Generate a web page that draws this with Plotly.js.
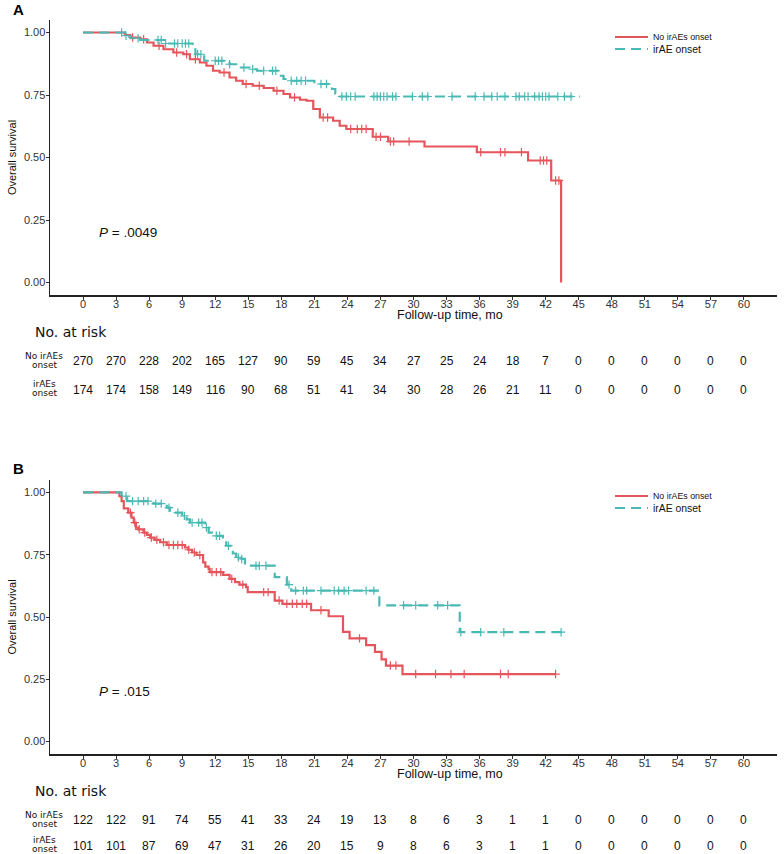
<!DOCTYPE html>
<html>
<head>
<meta charset="utf-8">
<script src="https://cdn.plot.ly/plotly-3.0.1.min.js"></script>
<style>
  body { margin: 0; background: #fff; }
  #chart { width: 784px; height: 854px; }
</style>
</head>
<body>
<div id="chart"></div>
<script>
// follow-up months shown on the axis and in the risk table
const riskTimes = [0, 3, 6, 9, 12, 15, 18, 21, 24, 27, 30, 33, 36, 39, 42, 45, 48, 51, 54, 57, 60];

// panel A - step points of the KM curves
const aNoTime = [0, 3.8, 4.3, 5.2, 5.8, 6.4, 7.3, 8.2, 9.1, 9.7, 10.6, 11.2, 11.8, 12.4, 13.3, 13.9, 14.5, 15.4, 16.4, 17.3, 18.2, 18.8, 19.7, 20.3, 20.9, 21.5, 22.7, 23.3, 23.9, 26.3, 27.7, 31.0, 35.75, 40.4, 42.5, 43.4];
const aNoSurv = [1, 0.99, 0.98, 0.973, 0.96, 0.947, 0.933, 0.92, 0.913, 0.893, 0.88, 0.867, 0.847, 0.84, 0.82, 0.807, 0.794, 0.787, 0.778, 0.767, 0.754, 0.74, 0.731, 0.727, 0.694, 0.66, 0.647, 0.627, 0.614, 0.583, 0.564, 0.544, 0.521, 0.488, 0.408, 0];
const aNoCensor = [4.5, 5.5, 6.9, 8.5, 9.4, 10.2, 12.8, 14.8, 16.0, 17.6, 19.2, 21.8, 22.2, 24.3, 24.9, 25.3, 25.7, 26.6, 27.0, 27.9, 28.2, 29.6, 36.1, 37.9, 38.3, 39.8, 41.5, 41.8, 42.1, 42.9, 43.2];

const aIrTime = [0, 3.8, 4.3, 5.2, 7.4, 9.95, 10.2, 11.0, 13.3, 14.2, 15.1, 15.8, 17.7, 18.2, 18.6, 21.0, 22.6, 22.9, 23.2, 45.1];
const aIrSurv = [1, 0.987, 0.977, 0.97, 0.956, 0.947, 0.913, 0.887, 0.873, 0.86, 0.853, 0.847, 0.827, 0.814, 0.807, 0.794, 0.774, 0.756, 0.744, 0.744];
const aIrCensor = [3.5, 3.9, 5.0, 6.8, 7.1, 7.5, 8.3, 8.6, 9.0, 9.3, 9.6, 10.4, 10.7, 12.0, 12.3, 12.6, 13.3, 14.6, 15.4, 16.4, 17.2, 17.5, 18.9, 19.4, 19.8, 20.2, 21.6, 22.1, 23.5, 23.9, 24.3, 24.7, 26.4, 26.7, 27.0, 27.3, 27.6, 28.1, 28.4, 29.9, 30.8, 31.3, 33.5, 35.6, 36.4, 37.1, 37.6, 38.3, 39.3, 39.6, 40.1, 40.4, 41.0, 41.4, 41.7, 42.0, 42.3, 43.1, 43.7, 44.3];

// panel B
const bNoTime = [0, 3.3, 3.5, 3.7, 4.1, 4.4, 4.6, 4.8, 5.0, 5.5, 5.8, 6.1, 6.5, 7.0, 7.6, 9.25, 9.55, 9.9, 10.3, 10.9, 11.1, 11.4, 11.5, 12.7, 13.3, 13.8, 14.2, 14.8, 14.95, 17.4, 18.1, 20.7, 22.3, 23.6, 24.2, 25.7, 26.5, 27.1, 27.5, 29.0, 42.9];
const bNoSurv = [1, 0.985, 0.965, 0.936, 0.919, 0.899, 0.879, 0.859, 0.852, 0.839, 0.83, 0.819, 0.81, 0.8, 0.789, 0.779, 0.77, 0.759, 0.749, 0.719, 0.702, 0.693, 0.68, 0.669, 0.653, 0.64, 0.63, 0.62, 0.6, 0.566, 0.553, 0.527, 0.503, 0.44, 0.414, 0.387, 0.36, 0.33, 0.305, 0.271, 0.271];
const bNoCensor = [4.3, 4.7, 5.1, 5.6, 6.2, 6.7, 7.3, 7.8, 8.2, 8.6, 9.0, 9.6, 10.1, 10.6, 11.7, 12.1, 12.5, 13.5, 14.5, 16.4, 16.8, 17.8, 18.5, 19.0, 19.4, 19.9, 20.3, 21.6, 25.1, 27.9, 28.4, 30.2, 32.0, 33.4, 34.6, 37.9, 38.6, 42.9];

const bIrTime = [0, 3.5, 4.0, 6.4, 7.6, 7.9, 8.3, 9.0, 9.4, 9.7, 11.1, 11.4, 11.7, 12.7, 13.0, 13.6, 13.9, 14.4, 14.7, 17.4, 18.5, 18.9, 26.9, 34.2, 43.4];
const bIrSurv = [1, 0.985, 0.965, 0.955, 0.939, 0.926, 0.919, 0.906, 0.892, 0.879, 0.859, 0.839, 0.826, 0.806, 0.786, 0.755, 0.739, 0.733, 0.706, 0.66, 0.63, 0.606, 0.547, 0.439, 0.439];
const bIrCensor = [3.9, 4.5, 5.0, 5.5, 5.9, 6.6, 7.1, 7.8, 8.6, 9.2, 9.9, 10.5, 10.8, 11.2, 12.1, 12.4, 13.2, 14.1, 14.4, 15.7, 16.0, 16.6, 18.7, 19.3, 20.0, 20.3, 21.6, 22.8, 23.2, 23.7, 24.1, 25.7, 26.4, 29.1, 30.2, 32.2, 33.1, 34.3, 36.1, 38.2, 43.4];

// numbers at risk
const aRiskNo = [270, 270, 228, 202, 165, 127, 90, 59, 45, 34, 27, 25, 24, 18, 7, 0, 0, 0, 0, 0, 0];
const aRiskIr = [174, 174, 158, 149, 116, 90, 68, 51, 41, 34, 30, 28, 26, 21, 11, 0, 0, 0, 0, 0, 0];
const bRiskNo = [122, 122, 91, 74, 55, 41, 33, 24, 19, 13, 8, 6, 3, 1, 1, 0, 0, 0, 0, 0, 0];
const bRiskIr = [101, 101, 87, 69, 47, 31, 26, 20, 15, 9, 8, 6, 3, 1, 1, 0, 0, 0, 0, 0, 0];

const RED = '#E5565C';
const TEAL = '#4AB9B3';
const FONT = 'Liberation Sans, Arial, sans-serif';
const WIDE = 'DejaVu Sans, sans-serif';

// survival value of a step curve at time t
function stepAt(times, surv, t) {
  let s = surv[0];
  for (let i = 0; i < times.length; i++) {
    if (times[i] <= t) s = surv[i];
  }
  return s;
}

function curve(times, surv, censor, name, color, dash, xa, ya, legend) {
  return [
    {
      x: times, y: surv, type: 'scatter', mode: 'lines', name,
      line: { color, width: 2.2, shape: 'hv', dash },
      xaxis: xa, yaxis: ya, legend, showlegend: true
    },
    {
      x: censor, y: censor.map(t => stepAt(times, surv, t)),
      type: 'scatter', mode: 'markers', showlegend: false,
      marker: { symbol: 'cross-thin', size: 6, color, line: { color, width: 1.2 } },
      xaxis: xa, yaxis: ya
    }
  ];
}

const DASH = '10px,6px';
const traces = [
  ...curve(aNoTime, aNoSurv, aNoCensor, 'No irAEs onset', RED, 'solid', 'x', 'y', 'legend'),
  ...curve(aIrTime, aIrSurv, aIrCensor, 'irAE onset', TEAL, DASH, 'x', 'y', 'legend3'),
  ...curve(bNoTime, bNoSurv, bNoCensor, 'No irAEs onset', RED, 'solid', 'x2', 'y2', 'legend2'),
  ...curve(bIrTime, bIrSurv, bIrCensor, 'irAE onset', TEAL, DASH, 'x2', 'y2', 'legend4')
];

const H = 854, W = 784;
const py = px => 1 - px / H;
const pxX = px => px / W;

function xAxis(anchor) {
  return {
    domain: [pxX(50), pxX(777)], range: [-3, 63], anchor,
    tickvals: riskTimes, ticks: 'outside', ticklen: 3, tickcolor: '#333', tickwidth: 1,
    ticklabelstandoff: -5,
    showline: true, linecolor: '#222', linewidth: 1.5,
    showgrid: false, zeroline: false,
    tickfont: { family: FONT, size: 11, color: '#333' }
  };
}
function yAxis(anchor, top, bottom) {
  return {
    domain: [py(bottom), py(top)], range: [-0.05, 1.05], anchor,
    tickvals: [0, 0.25, 0.5, 0.75, 1], ticktext: ['0.00', '0.25', '0.50', '0.75', '1.00'],
    ticks: 'outside', ticklen: 3, tickcolor: '#333', tickwidth: 1,
    ticklabelstandoff: -2,
    showline: true, linecolor: '#222', linewidth: 1.5,
    showgrid: false, zeroline: false,
    tickfont: { family: FONT, size: 11, color: '#333' },
    title: { text: 'Overall survival', font: { family: FONT, size: 11, color: '#111' }, standoff: 5 }
  };
}

const annotations = [];
function note(text, x, y, font, xanchor, xref) {
  annotations.push({ text, xref: xref || 'paper', yref: 'paper', x, y, xanchor: xanchor || 'center',
    yanchor: 'middle', showarrow: false, font });
}

// off = vertical shift of the panel, rows = y of the two risk rows (px from top)
function panel(label, off, rows, xref, yref, pText, riskNo, riskIr) {
  note('<b>' + label + '</b>', pxX(11), py(9 + off), { family: FONT, size: 15, color: '#000' }, 'left');
  annotations.push({ text: '<i>P</i> = ' + pText, xref, yref, x: 1.3, y: 0.2,
    xanchor: 'left', yanchor: 'middle', showarrow: false, font: { family: FONT, size: 13.5, color: '#111' } });
  note('Follow-up time, mo', pxX(450), py(315 + off), { family: FONT, size: 12.5, color: '#111' });
  note('No. at risk', pxX(33), py(332 + off), { family: WIDE, size: 14, color: '#111' }, 'left');
  const lab = { family: WIDE, size: 9, color: '#111' };
  note('No irAEs', pxX(44), py(rows[0] - 5), lab);
  note('onset', pxX(44), py(rows[0] + 4), lab);
  note('irAEs', pxX(44), py(rows[1] - 6), lab);
  note('onset', pxX(44), py(rows[1] + 3), lab);
  const num = { family: FONT, size: 12, color: '#111' };
  riskTimes.forEach((t, i) => {
    note(String(riskNo[i]), t, py(rows[0]), num, 'center', xref);
    note(String(riskIr[i]), t, py(rows[1]), num, 'center', xref);
  });
}

panel('A', 0, [361, 390], 'x', 'y', '.0049', aRiskNo, aRiskIr);
panel('B', 459, [820, 846], 'x2', 'y2', '.015', bRiskNo, bRiskIr);

const legendAt = (y, size) => ({
  x: pxX(610), y: py(y), xanchor: 'left', yanchor: 'middle',
  bgcolor: 'rgba(0,0,0,0)', borderwidth: 0, itemwidth: 33,
  font: { family: FONT, size, color: '#111' }
});

const layout = {
  width: W, height: H,
  margin: { l: 0, r: 0, t: 0, b: 0 },
  paper_bgcolor: '#fff', plot_bgcolor: '#fff',
  xaxis: xAxis('y'),
  yaxis: yAxis('x', 20, 295),
  xaxis2: xAxis('y2'),
  yaxis2: yAxis('x2', 480, 754),
  legend: legendAt(37, 8.8),
  legend3: legendAt(49, 10.4),
  legend2: legendAt(496, 8.8),
  legend4: legendAt(508, 10.4),
  annotations
};

Plotly.newPlot('chart', traces, layout, { staticPlot: true });
</script>
</body>
</html>
